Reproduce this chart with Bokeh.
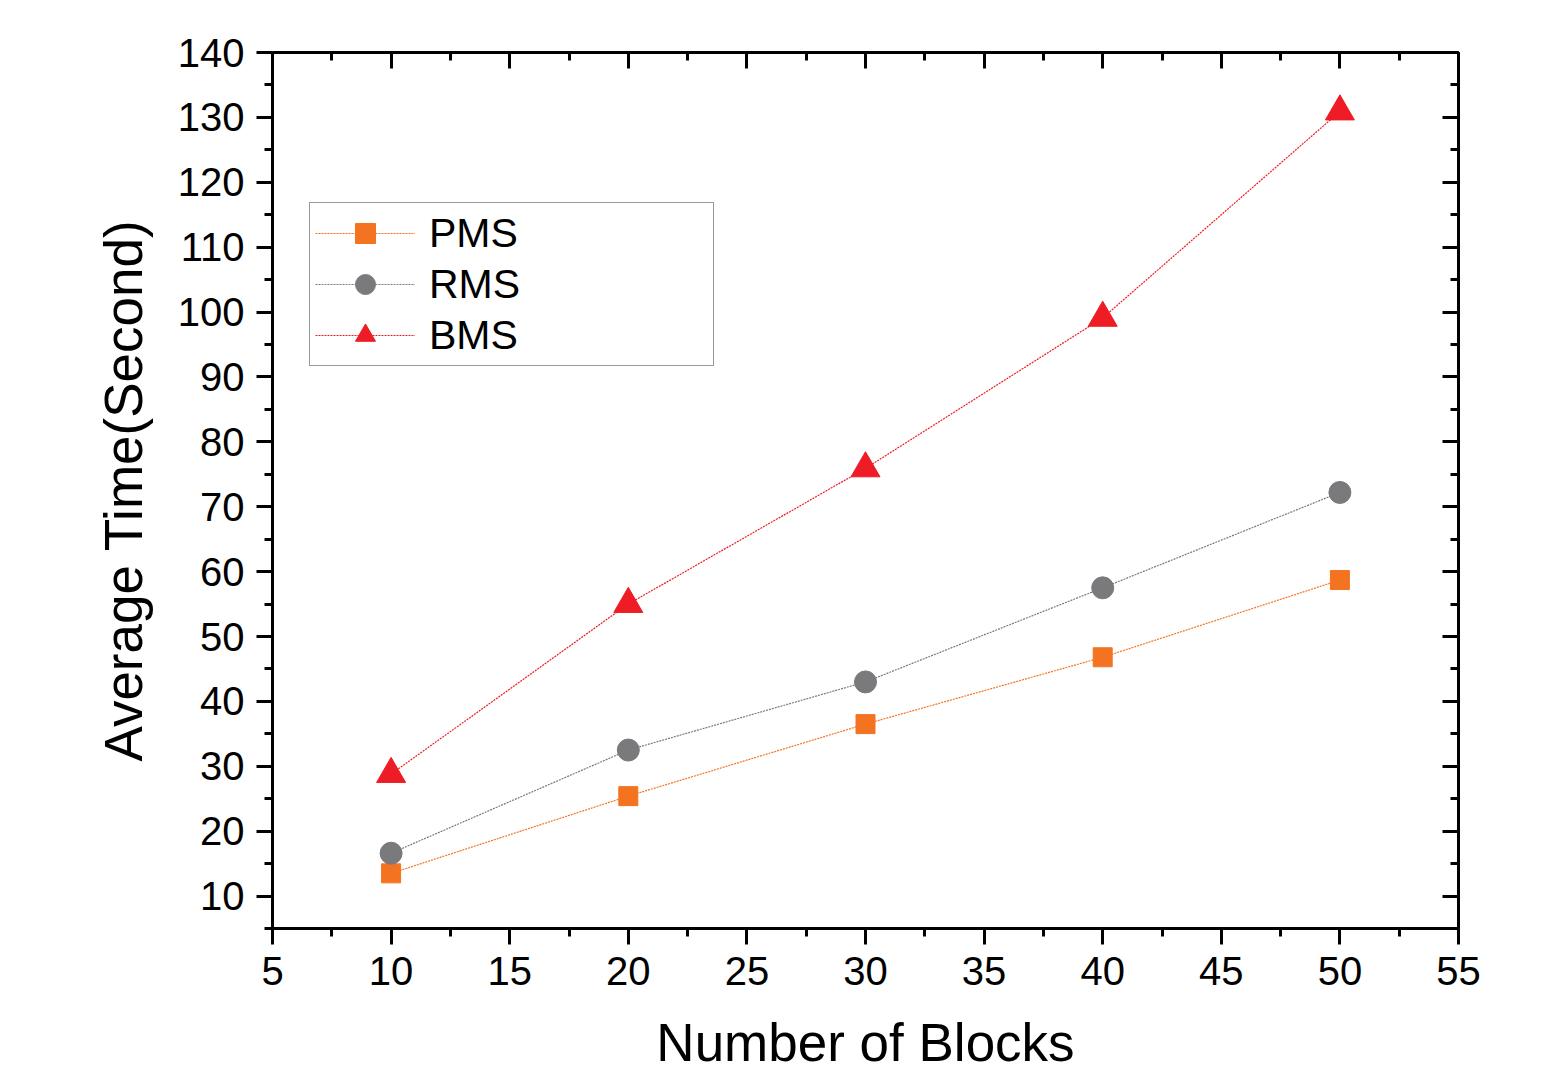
from bokeh.plotting import figure
from bokeh.models import (Range1d, LinearAxis, SingleIntervalTicker, CustomJSTickFormatter,
                          Legend, LegendItem)
from bokeh.embed import file_html
from bokeh.resources import INLINE

blocks = [10, 20, 30, 40, 50]
pms = [13.5, 25.4, 36.5, 46.8, 58.7]
rms = [16.6, 32.5, 43.0, 57.5, 72.2]
bms = [28.8, 55.0, 75.9, 99.1, 130.9]
series_names = ["PMS", "RMS", "BMS"]
x_title = "Number of Blocks"
y_title = "Average Time(Second)"

FONT = "Liberation Sans"

p = figure(width=1535, height=1075, output_backend="svg", toolbar_location=None,
           x_range=Range1d(5, 55), y_range=Range1d(5, 140),
           min_border_left=272, min_border_top=52, min_border_right=77, min_border_bottom=147)
p.outline_line_color = None
p.xgrid.visible = False
p.ygrid.visible = False
p.background_fill_color = "white"
p.border_fill_color = "white"

p.xaxis.ticker = SingleIntervalTicker(interval=5, num_minor_ticks=2)
p.yaxis.ticker = SingleIntervalTicker(interval=10, num_minor_ticks=2)


def style_axis(ax, inward):
    ax.axis_line_width = 3
    ax.axis_line_color = "black"
    ax.major_tick_line_width = 3
    ax.minor_tick_line_width = 3
    ax.major_tick_line_color = "black"
    ax.minor_tick_line_color = "black"
    if inward:
        ax.major_tick_in, ax.major_tick_out = 16, 0
        ax.minor_tick_in, ax.minor_tick_out = 8, 0
    else:
        ax.major_tick_in, ax.major_tick_out = 0, 16
        ax.minor_tick_in, ax.minor_tick_out = 0, 8
    ax.major_label_text_font = FONT
    ax.major_label_text_font_size = "40px"
    ax.major_label_text_color = "black"
    ax.axis_label_text_font = FONT
    ax.axis_label_text_font_size = "53px"
    ax.axis_label_text_font_style = "normal"
    ax.axis_label_text_color = "black"


for ax in p.xaxis + p.yaxis:
    style_axis(ax, False)
p.xaxis.axis_label = x_title
p.yaxis.axis_label = y_title
p.xaxis.major_label_standoff = 12
p.yaxis.major_label_standoff = 12
p.xaxis.axis_label_standoff = 25
p.yaxis.axis_label_standoff = 22

empty = CustomJSTickFormatter(code="return ''")
top = LinearAxis(ticker=SingleIntervalTicker(interval=5, num_minor_ticks=2), formatter=empty)
right = LinearAxis(ticker=SingleIntervalTicker(interval=10, num_minor_ticks=2), formatter=empty)
style_axis(top, True)
style_axis(right, True)
top.major_label_standoff = 0
right.major_label_standoff = 0
p.add_layout(top, "above")
p.add_layout(right, "right")

c_pms = "#F47320"
c_rms = "#7A7A7C"
c_bms = "#EE1C25"

l1 = p.line(blocks, pms, line_color=c_pms, line_width=1.2, line_dash="2 1")
m1 = p.scatter(blocks, pms, marker="square", size=19, fill_color=c_pms, line_color=c_pms)
l2 = p.line(blocks, rms, line_color=c_rms, line_width=1.2, line_dash="2 1")
m2 = p.scatter(blocks, rms, marker="circle", size=22, fill_color=c_rms, line_color=c_rms)
l3 = p.line(blocks, bms, line_color=c_bms, line_width=1.2, line_dash="2 1")
m3 = p.scatter(blocks, bms, marker="triangle", size=29, fill_color=c_bms, line_color=c_bms)

legend = Legend(items=[LegendItem(label=series_names[0], renderers=[l1, m1]),
                       LegendItem(label=series_names[1], renderers=[l2, m2]),
                       LegendItem(label=series_names[2], renderers=[l3, m3])],
                location=(37, 562), orientation="vertical")
legend.border_line_color = "#333333"
legend.border_line_width = 1.5
legend.background_fill_alpha = 1
legend.padding = 5
legend.spacing = 1
legend.margin = 0
legend.glyph_width = 100
legend.glyph_height = 50
legend.label_height = 50
legend.label_width = 279
legend.label_standoff = 14
legend.label_text_font = FONT
legend.label_text_font_size = "41px"
legend.label_text_color = "black"
p.add_layout(legend, "center")

open("out.html", "w").write(file_html(p, INLINE))
